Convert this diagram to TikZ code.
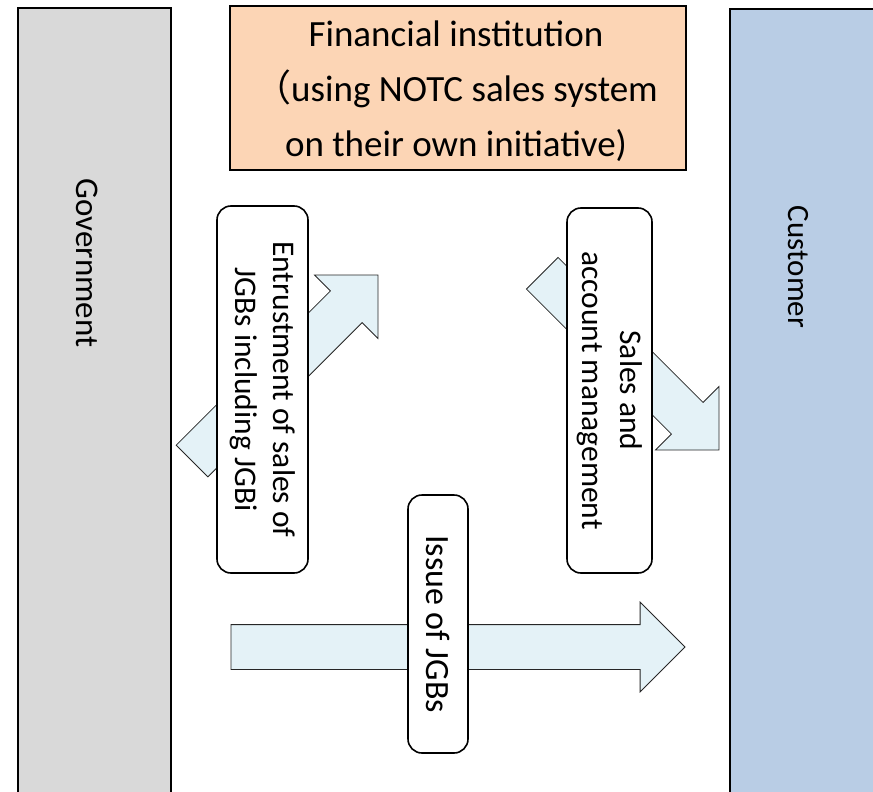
\documentclass[tikz,border=0pt]{standalone}
\usepackage{fontspec}
\setmainfont{Carlito}
\newfontfamily\cjk{Noto Sans CJK JP}
\usetikzlibrary{shapes.arrows,positioning}

\definecolor{govgray}{RGB}{217,217,217}
\definecolor{custblue}{RGB}{185,205,229}
\definecolor{finpeach}{RGB}{252,213,181}
\definecolor{flowcyan}{RGB}{228,242,247}

\begin{document}
\begin{tikzpicture}[x=1pt,y=-1pt]
  \tikzset{party/.style = {draw=black,line width=1.5pt,inner sep=0pt,outer sep=0pt,anchor=north west}}
  \tikzset{flow/.style = {single arrow,draw=black!85,line width=0.8pt,fill=flowcyan,
                          inner xsep=0pt,inner ysep=22pt,single arrow head extend=22.5pt,
                          single arrow tip angle=90,outer sep=0pt,anchor=tip}}
  \tikzset{tag/.style = {draw=black,line width=1.6pt,fill=white,rounded corners=14pt,
                         rotate=-90,align=center,inner sep=0pt,outer sep=0pt,
                         font=\fontsize{31.5}{38}\selectfont}}
  \useasboundingbox (0,0) rectangle (873,792);
  \clip (0,0) rectangle (873,792);

  % the two parties
  \node[party,fill=govgray,minimum width=153pt,minimum height=804pt] (gov) at (18,8) {};
  \node[rotate=-90,font=\fontsize{33}{40}\selectfont] (govlabel) at (87,263) {Government};
  \node[party,fill=custblue,minimum width=160pt,minimum height=804pt] (cust) at (730,9) {};
  \node[rotate=-90,font=\fontsize{31}{38}\selectfont] (custlabel) at (798,267) {Customer};

  \node[draw=black,line width=1.5pt,fill=finpeach,minimum width=456pt,minimum height=164pt,
        align=center,font=\fontsize{37}{55}\selectfont] (fin) at (458,88)
        {};
  \node[align=center,font=\fontsize{37}{55}\selectfont] (fintext) at (456,91)
        {Financial institution\\{\cjk （}using NOTC sales system\\on their own initiative)};

  % flows
  \node[flow,minimum height=454pt] (issuearrow) at (685,647) {};
  \node[flow,minimum height=263pt,rotate=45] (entrustarrow) at (378,275) {};
  \node[flow,minimum height=250pt,rotate=-45] (salesarrow) at (719,450) {};

  \node[tag,minimum width=367pt,minimum height=91pt] (entrust) at (262.5,389.5)
        {Entrustment of sales of\\JGBs including JGBi};
  \node[tag,minimum width=365pt,minimum height=85pt] (sales) at (609.5,390.5)
        {Sales and\\account management};
  \node[tag,minimum width=258pt,minimum height=60pt,font=\fontsize{34}{40}\selectfont] (issue) at (438,624)
        {Issue of JGBs};

\end{tikzpicture}
\end{document}
